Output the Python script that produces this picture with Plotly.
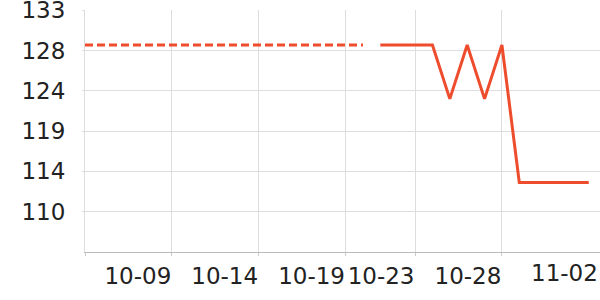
import plotly.graph_objects as go
import pandas as pd

# ---- data ----
dashed_dates = pd.date_range("2023-10-04", "2023-10-20", freq="D").strftime("%Y-%m-%d").tolist()
dashed_values = [129.0] * len(dashed_dates)

solid_dates = pd.date_range("2023-10-21", "2023-11-02", freq="D").strftime("%Y-%m-%d").tolist()
solid_values = [129.0, 129.0, 129.0, 129.0, 122.8, 129.0, 122.8, 129.0,
                113.2, 113.2, 113.2, 113.2, 113.2]

x_tick_dates = ["2023-10-04", "2023-10-09", "2023-10-14", "2023-10-19", "2023-10-23", "2023-10-28"]
x_tick_labels = ["", "10-09", "10-14", "10-19", "10-23", "10-28"]
last_label_date = "2023-11-02"
last_label = "11-02"

y_min, y_max = 105.2, 133.0
y_tick_labels = ["110", "114", "119", "124", "128", "133"]
step = (y_max - y_min) / 6
y_tick_vals = [y_min + step * (i + 1) for i in range(6)]

LINE_COLOR = "#ee4d2d"
GRID = "#dddddd"
FONT = dict(family="DejaVu Sans", size=23, color="#222222")

fig = go.Figure()
fig.add_trace(go.Scatter(x=dashed_dates, y=dashed_values, mode="lines",
                         line=dict(color=LINE_COLOR, width=3, dash="8px,4px"),
                         showlegend=False, hoverinfo="skip"))
fig.add_trace(go.Scatter(x=solid_dates, y=solid_values, mode="lines",
                         line=dict(color=LINE_COLOR, width=3),
                         showlegend=False, hoverinfo="skip"))

fig.add_annotation(x=1, xref="paper", y=0, yref="paper", yshift=-6,
                   text=last_label, showarrow=False, xanchor="right", yanchor="top",
                   font=FONT)

fig.update_layout(
    width=600, height=300,
    margin=dict(l=85, r=0, t=10, b=48, pad=0),
    paper_bgcolor="white", plot_bgcolor="white",
    font=FONT,
    xaxis=dict(type="date", range=["2023-10-04", "2023-11-02 15:30"],
               tickmode="array", tickvals=x_tick_dates, ticktext=x_tick_labels,
               showgrid=True, gridcolor=GRID, gridwidth=1,
               showline=True, linecolor="#bbbbbb", linewidth=1,
               ticks="outside", ticklen=3, tickcolor="#cccccc",
               ticklabelshift=-34, ticklabelstandoff=0,
               zeroline=False, tickfont=FONT, automargin=False),
    yaxis=dict(range=[y_min, y_max + 0.02], tickmode="array",
               tickvals=y_tick_vals, ticktext=y_tick_labels,
               showgrid=True, gridcolor=GRID, gridwidth=1,
               showline=True, linecolor=GRID, linewidth=1,
               ticks="outside", ticklen=2, tickcolor=GRID,
               ticklabelstandoff=12, ticklabeloverflow="allow",
               zeroline=False, tickfont=FONT, automargin=False),
)

fig.write_html("out.html")
